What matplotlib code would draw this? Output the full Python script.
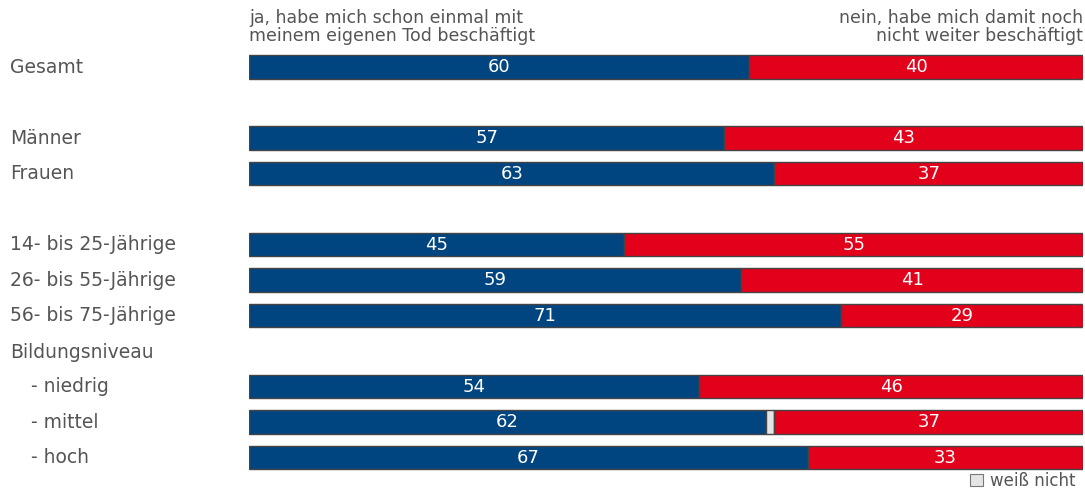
import matplotlib.pyplot as plt
from matplotlib.patches import Patch
from matplotlib.transforms import blended_transform_factory

plt.rcParams['font.family'] = ['DejaVu Sans']

# Daten
labels = ['Gesamt', 'Männer', 'Frauen', '14- bis 25-Jährige', '26- bis 55-Jährige',
          '56- bis 75-Jährige', '- niedrig', '- mittel', '- hoch']
indent = [0, 0, 0, 0, 0, 0, 1, 1, 1]
rows = [0, 2, 3, 5, 6, 7, 9, 10, 11]
ja = [60, 57, 63, 45, 59, 71, 54, 62, 67]
weiss_nicht = [0, 0, 0, 0, 0, 0, 0, 1, 0]
nein = [40, 43, 37, 55, 41, 29, 46, 37, 33]

blue = '#00457f'
red = '#e2001a'
grey_txt = '#555555'
edge = '#444444'

fig = plt.figure(figsize=(10.85, 4.94), dpi=100)
ax = fig.add_axes([249 / 1085, 1 - 475.25 / 494, (1083 - 249) / 1085, (475.25 - 49.25) / 494])

h = 0.65
left_wn = [a for a in ja]
left_nein = [a + w for a, w in zip(ja, weiss_nicht)]
ax.barh(rows, ja, height=h, color=blue, edgecolor=edge, linewidth=1)
ax.barh(rows, weiss_nicht, left=left_wn, height=h, color='#e4e4e4', edgecolor=edge, linewidth=1)
ax.barh(rows, nein, left=left_nein, height=h, color=red, edgecolor=edge, linewidth=1)

for r, a, l, n in zip(rows, ja, left_nein, nein):
    ax.text(a / 2, r, str(a), ha='center', va='center', color='white', fontsize=13)
    ax.text(l + n / 2, r, str(n), ha='center', va='center', color='white', fontsize=13)

ax.set_xlim(0, 100)
ax.set_ylim(11.5, -0.5)
ax.axis('off')

# Zeilenbeschriftungen
tr = blended_transform_factory(fig.transFigure, ax.transData)
for r, lab, ind in zip(rows, labels, indent):
    x0 = (31 if ind else 10) / 1085
    ax.text(x0, r, lab, transform=tr, ha='left', va='center', color=grey_txt, fontsize=13.5)
ax.text(10 / 1085, 8.05, 'Bildungsniveau', transform=tr, ha='left', va='center', color=grey_txt, fontsize=13.5)

# Kopfzeilen
fig.text(249 / 1085, 1 - 9 / 494, 'ja, habe mich schon einmal mit\nmeinem eigenen Tod beschäftigt',
         ha='left', va='top', color=grey_txt, fontsize=12.5, linespacing=0.98)
fig.text(1083 / 1085, 1 - 9 / 494, 'nein, habe mich damit noch\nnicht weiter beschäftigt',
         ha='right', va='top', color=grey_txt, fontsize=12.5, linespacing=0.98, multialignment='right')

# Legende
handle = Patch(facecolor='#e4e4e4', edgecolor='#777777', linewidth=0.8, label='weiß nicht')
fig.legend(handles=[handle], loc='lower right', bbox_to_anchor=(1.0, -0.012), frameon=False,
           fontsize=12, handlelength=0.75, handleheight=0.75, handletextpad=0.4,
           labelcolor=grey_txt, borderaxespad=0.2)

fig.savefig('out.png', dpi=100)
